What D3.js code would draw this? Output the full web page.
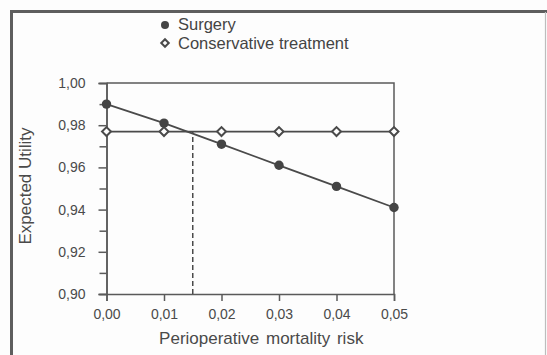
<!DOCTYPE html>
<html>
<head>
<meta charset="utf-8">
<script src="https://cdn.jsdelivr.net/npm/d3@7"></script>
<style>
	body { margin: 0; background: #fdfdfd; }
	svg { display: block; font-family: "Liberation Sans", Arial, sans-serif; }
	.axis path, .axis line { stroke: #5a5a5a; stroke-width: 1.5; }
	.axis text { fill: #4a4a4a; font-size: 14px; }
</style>
</head>
<body>
<div id="chart-area"></div>
<script>

// chart values
let risk = [0.00, 0.01, 0.02, 0.03, 0.04, 0.05];
let surgery = [0.990, 0.981, 0.971, 0.961, 0.951, 0.941];
let conservative = [0.977, 0.977, 0.977, 0.977, 0.977, 0.977];
let threshold = 0.015;

let xTicks = [0.00, 0.01, 0.02, 0.03, 0.04, 0.05];
let yTicks = [0.90, 0.92, 0.94, 0.96, 0.98, 1.00];
let yMinorTicks = [0.91, 0.93, 0.95, 0.97, 0.99];

let seriesNames = ["Surgery", "Conservative treatment"];

let margin = {top: 83, right: 153, bottom: 61, left: 106.5};
let fullWidth = 547, fullHeight = 355;
let width = fullWidth - margin.left - margin.right;
let height = fullHeight - margin.top - margin.bottom;

let ink = "#4a4a4a";

let svg = d3.select("#chart-area").append("svg")
	.attr("width", fullWidth)
	.attr("height", fullHeight);

// scanned frame round the figure
svg.append("line")
	.attr("x1", 10).attr("x2", 547).attr("y1", 11.5).attr("y2", 11.5)
	.attr("stroke", "#5e5e5e").attr("stroke-width", 3);
svg.append("line")
	.attr("x1", 11.5).attr("x2", 11.5).attr("y1", 10).attr("y2", 355)
	.attr("stroke", "#5e5e5e").attr("stroke-width", 3);
svg.append("line")
	.attr("x1", 545.5).attr("x2", 545.5).attr("y1", 12).attr("y2", 355)
	.attr("stroke", "#bdbdbd").attr("stroke-width", 1.2);

let g = svg.append("g")
	.attr("transform", "translate(" + margin.left + "," + margin.top + ")");

// Scales
let x = d3.scaleLinear()
	.domain([0, 0.05])
	.range([0, width]);

let y = d3.scaleLinear()
	.domain([0.90, 1.00])
	.range([height, 0]);

let comma = d => d3.format(".2f")(d).replace(".", ",");

// Axes
let xAxis = d3.axisBottom(x)
	.tickValues(xTicks)
	.tickFormat(comma)
	.tickSizeOuter(0)
	.tickSize(7)
	.tickPadding(8);

let yAxis = d3.axisLeft(y)
	.tickValues(yTicks)
	.tickFormat(comma)
	.tickSizeOuter(0)
	.tickSize(8)
	.tickPadding(13);

let yMinor = d3.axisLeft(y)
	.tickValues(yMinorTicks)
	.tickFormat("")
	.tickSizeOuter(0)
	.tickSize(7);

g.append("g")
	.attr("class", "axis x-axis")
	.attr("transform", "translate(0," + height + ")")
	.call(xAxis);

g.append("g")
	.attr("class", "axis y-axis")
	.call(yAxis);

g.append("g")
	.attr("class", "axis y-minor")
	.call(yMinor);

// top and right edges of the plot box
g.append("path")
	.attr("d", "M0,0H" + x(0.05) + "V" + y(0.90))
	.attr("fill", "none")
	.attr("stroke", "#5a5a5a")
	.attr("stroke-width", 1.5);

// Axis titles
g.append("text")
	.attr("x", x(0.025) + 11)
	.attr("y", height + 50)
	.attr("text-anchor", "middle")
	.attr("fill", "#4a4a4a")
	.style("font-size", "17px")
	.style("word-spacing", "2px")
	.text("Perioperative  mortality risk");

svg.append("text")
	.attr("transform", "translate(31," + 186 + ") rotate(-90)")
	.attr("text-anchor", "middle")
	.attr("fill", "#4a4a4a")
	.style("font-size", "17px")
	.text("Expected Utility");

// threshold where the two lines cross
g.append("line")
	.attr("x1", x(threshold)).attr("x2", x(threshold))
	.attr("y1", y(0.90)).attr("y2", y(conservative[0]))
	.attr("stroke", ink)
	.attr("stroke-width", 1.5)
	.attr("stroke-dasharray", "5,3");

let surgeryData = risk.map((r, i) => ({r: r, v: surgery[i]}));
let conservativeData = risk.map((r, i) => ({r: r, v: conservative[i]}));

let line = d3.line()
	.x(d => x(d.r))
	.y(d => y(d.v));

g.append("path")
	.attr("d", line(conservativeData))
	.attr("fill", "none")
	.attr("stroke", ink)
	.attr("stroke-width", 1.8);

g.append("path")
	.attr("d", line(surgeryData))
	.attr("fill", "none")
	.attr("stroke", ink)
	.attr("stroke-width", 1.8);

// open diamonds = squares turned 45 degrees
let diamond = d3.symbol().type(d3.symbolSquare);

g.selectAll(".diamond")
	.data(conservativeData)
	.enter()
	.append("path")
	.attr("class", "diamond")
	.attr("transform", d => "translate(" + x(d.r) + "," + y(d.v) + ") rotate(45)")
	.attr("d", diamond.size(40)())
	.attr("fill", "#fdfdfd")
	.attr("stroke", ink)
	.attr("stroke-width", 2);

g.selectAll(".dot")
	.data(surgeryData)
	.enter()
	.append("circle")
	.attr("class", "dot")
	.attr("cx", d => x(d.r))
	.attr("cy", d => y(d.v))
	.attr("r", 4.7)
	.attr("fill", "#444");

// Legend
let legend = svg.append("g")
	.attr("transform", "translate(165,25)");

legend.append("circle")
	.attr("r", 4)
	.attr("fill", "#444");

legend.append("path")
	.attr("transform", "translate(0,18) rotate(45)")
	.attr("d", diamond.size(28)())
	.attr("fill", "#fdfdfd")
	.attr("stroke", ink)
	.attr("stroke-width", 2);

legend.selectAll(".legend-label")
	.data(seriesNames)
	.enter()
	.append("text")
	.attr("class", "legend-label")
	.attr("x", 13)
	.attr("y", (d, i) => 4.5 + i * 19)
	.attr("fill", "#444")
	.style("font-size", "16.5px")
	.text(d => d);

</script>
</body>
</html>
